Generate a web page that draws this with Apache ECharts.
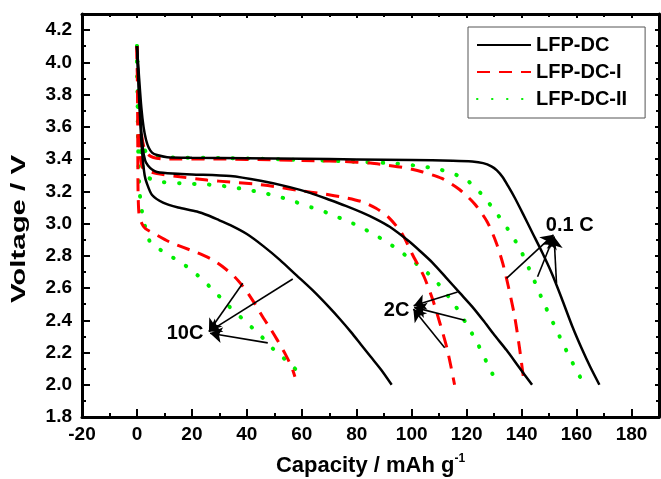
<!DOCTYPE html>
<html>
<head>
<meta charset="utf-8">
<script src="https://cdn.jsdelivr.net/npm/echarts@6/dist/echarts.min.js"></script>
<style>
  html, body { margin: 0; padding: 0; background: #fff; }
  #main { width: 661px; height: 479px; }
</style>
</head>
<body>
<div id="main"></div>
<script>
// discharge curves, [capacity mAh/g, voltage V]
// LFP-DC (black), LFP-DC-I (red), LFP-DC-II (green) at 0.1C / 2C / 10C
const dc_01 = [[0,4.1],[0.8,3.9],[1.6,3.72],[2.4,3.6],[3.3,3.52],[4.3,3.47],[5.5,3.44],[7.3,3.425],[11,3.412],[20,3.408],[40,3.405],[60,3.402],[80,3.398],[100,3.394],[115,3.39],[122,3.385],[126,3.375],[129,3.355],[131,3.33],[133,3.29],[135,3.235],[137.5,3.16],[140.5,3.06],[144,2.94],[147.5,2.82],[151,2.69],[154.5,2.54],[158.5,2.36],[162,2.22],[165,2.11],[168.3,2.0]];
const dcI_01 = [[0,4.1],[0.4,3.9],[0.9,3.7],[1.6,3.56],[2.6,3.47],[4,3.43],[6,3.41],[10,3.4],[30,3.4],[50,3.395],[65,3.39],[75,3.385],[85,3.375],[91,3.362],[98,3.345],[104,3.32],[111,3.28],[117.5,3.21],[123,3.12],[127.5,3.01],[130.8,2.88],[133.2,2.75],[135.3,2.6],[137.5,2.42],[139.3,2.22],[141,2.0]];
const dcII_01 = [[0,4.1],[0.3,3.9],[0.7,3.7],[1.3,3.56],[2.2,3.48],[3.5,3.44],[6,3.415],[10,3.41],[33,3.406],[60,3.395],[82,3.382],[94.5,3.372],[101,3.36],[109,3.34],[115,3.31],[120,3.27],[125,3.19],[130,3.085],[135,2.965],[139.5,2.84],[144,2.67],[148,2.51],[152.7,2.34],[157.5,2.17],[162.5,2.01]];

const dc_2 = [[0,4.1],[0.7,3.85],[1.4,3.62],[2.2,3.46],[3,3.39],[4,3.36],[5.5,3.335],[7.3,3.32],[13,3.31],[20,3.305],[34,3.295],[45,3.265],[55.6,3.226],[63,3.19],[70,3.148],[76,3.11],[82,3.068],[87,3.028],[92,2.98],[99,2.89],[103,2.83],[107.7,2.755],[112.5,2.665],[117.5,2.57],[122,2.485],[126,2.4],[130,2.31],[134.5,2.215],[139,2.11],[143.8,2.0]];
const dcI_2 = [[0,4.1],[0.3,3.85],[0.7,3.6],[1.2,3.42],[2,3.35],[3.5,3.33],[7.3,3.31],[15.6,3.29],[25.5,3.27],[34,3.257],[43,3.245],[50,3.23],[59,3.205],[67.6,3.185],[76,3.16],[82,3.135],[87,3.095],[91.5,3.04],[96.4,2.94],[100.5,2.8],[104.5,2.67],[107.6,2.53],[110.3,2.38],[113,2.215],[115.6,2.0]];
const dcII_2 = [[0,4.1],[0.3,3.85],[0.8,3.6],[1.5,3.42],[2.5,3.32],[3.6,3.29],[6,3.27],[9.5,3.257],[15.6,3.25],[22,3.245],[27.6,3.24],[34.5,3.226],[40,3.21],[46,3.19],[52,3.165],[57.5,3.135],[63.6,3.1],[69.5,3.065],[74.5,3.03],[80,2.99],[85.5,2.94],[91,2.885],[96,2.825],[101,2.76],[106,2.69],[110,2.62],[113.5,2.545],[117,2.46],[120.5,2.36],[124,2.255],[128.4,2.1],[131.5,2.0]];

const dc_10 = [[0,4.1],[0.6,3.85],[1.3,3.6],[2,3.42],[2.8,3.3],[3.6,3.25],[5.5,3.177],[9.5,3.13],[15,3.1],[21.8,3.075],[26,3.05],[30,3.02],[34,2.99],[40,2.935],[46,2.86],[52,2.775],[58,2.68],[64,2.585],[70,2.48],[74,2.405],[78,2.325],[81.5,2.25],[85,2.175],[89,2.09],[92.7,2.0]];
const dcI_10 = [[0,4.1],[0.2,3.8],[0.3,3.5],[0.4,3.2],[0.8,3.05],[1.8,3.0],[3,2.97],[6,2.94],[12,2.885],[21.8,2.82],[27,2.78],[31,2.735],[35.5,2.67],[39.5,2.59],[43,2.5],[45.8,2.42],[48.5,2.35],[51,2.28],[54,2.19],[56.3,2.11],[57.5,2.05]];
const dcII_10 = [[0,4.1],[0.2,3.8],[0.4,3.5],[0.7,3.3],[1,3.19],[1.8,3.08],[3,2.98],[4.7,2.89],[10,2.82],[16.4,2.755],[22,2.68],[27.6,2.59],[33,2.495],[39,2.4],[44.7,2.31],[50,2.215],[56.4,2.12],[61,2.03]];

const names = ['LFP-DC', 'LFP-DC-I', 'LFP-DC-II'];

// rate labels and their arrows (data coords)
const noteLabels = [['10C', 17.5, 2.32], ['2C', 94.5, 2.46], ['0.1 C', 157.5, 2.99]];
const noteArrows = [
  [[56.7, 2.656], [26.2, 2.33]], [[38.5, 2.63], [26.2, 2.33]], [[47.6, 2.26], [26.6, 2.32]],
  [[116.7, 2.575], [100.7, 2.49]], [[119.3, 2.40], [100.9, 2.48]], [[112, 2.23], [100.6, 2.47]],
  [[134.5, 2.66], [151.6, 2.93]], [[145.8, 2.67], [151.7, 2.92]], [[152.7, 2.63], [151.8, 2.92]]
];

const FONT = 'Liberation Sans, Arial, sans-serif';

const styles = [
  { color: '#000000', width: 2.5, type: 'solid' },
  { color: '#ff0000', width: 3, type: [13, 9] },
  { color: '#00ee00', width: 4, type: [0.5, 14.5], cap: 'round' }
];

function curve(idx, data) {
  const s = styles[idx];
  return {
    name: names[idx],
    type: 'line',
    data: data,
    showSymbol: false,
    symbol: 'none',
    smooth: 0.25,
    color: s.color,
    lineStyle: { color: s.color, width: s.width, type: s.type, cap: s.cap || 'butt' },
    z: 3 - idx
  };
}

const series = [
  curve(0, dc_01), curve(1, dcI_01), curve(2, dcII_01),
  curve(0, dc_2), curve(1, dcI_2), curve(2, dcII_2),
  curve(0, dc_10), curve(1, dcI_10), curve(2, dcII_10),
  {
    name: 'notes',
    type: 'line',
    data: [],
    color: '#000',
    z: 5,
    markLine: {
      silent: true,
      symbol: ['none', 'arrow'],
      symbolSize: 12,
      label: { show: false },
      itemStyle: { color: '#000' },
      lineStyle: { color: '#000', width: 1.6, type: 'solid' },
      data: noteArrows.map(a => [{ coord: a[0] }, { coord: a[1] }])
    },
    markPoint: {
      silent: true,
      symbol: 'circle',
      symbolSize: 0,
      label: {
        show: true, position: 'inside', formatter: p => p.name,
        color: '#000', fontSize: 20, fontWeight: 'bold', fontFamily: FONT
      },
      data: noteLabels.map(n => ({ name: n[0], coord: [n[1], n[2]] }))
    }
  }
];

const chart = echarts.init(document.getElementById('main'));
chart.setOption({
  animation: false,
  backgroundColor: '#fff',
  grid: { left: 82, right: 2, top: 14, bottom: 62, outerBoundsMode: 'none', containLabel: false },
  legend: {
    data: names,
    orient: 'vertical',
    left: 468,
    top: 27,
    padding: [8, 18, 9, 8],
    itemWidth: 54,
    itemHeight: 14,
    itemGap: 7,
    borderColor: '#555',
    borderWidth: 1,
    itemStyle: { color: 'transparent', borderWidth: 0, opacity: 0 },
    textStyle: { color: '#000', fontSize: 20, fontWeight: 'bold', fontFamily: FONT, lineHeight: 20 }
  },
  xAxis: [
    {
      type: 'value', min: -20, max: 190, interval: 20,
      name: '{a|Capacity / mAh g}{b|-1}',
      nameLocation: 'middle',
      nameGap: 36,
      nameTextStyle: {
        rich: {
          a: { fontSize: 22, fontWeight: 'bold', fontFamily: FONT, color: '#000', lineHeight: 26 },
          b: { fontSize: 12, fontWeight: 'bold', fontFamily: FONT, color: '#000', verticalAlign: 'top', lineHeight: 14 }
        }
      },
      axisLine: { onZero: false, lineStyle: { color: '#000', width: 3 } },
      axisTick: { inside: true, length: 8, lineStyle: { width: 2 } },
      minorTick: { show: true, splitNumber: 2, length: 4, lineStyle: { color: '#000', width: 2 } },
      splitLine: { show: false },
      axisLabel: {
        margin: 8, color: '#000', fontSize: 19, fontWeight: 'bold', fontFamily: FONT,
        formatter: v => (v > 185 ? '' : String(v))
      }
    },
    {
      type: 'value', min: -20, max: 190, interval: 20, position: 'top',
      axisLine: { onZero: false, lineStyle: { color: '#000', width: 3 } },
      axisTick: { inside: true, length: 4, lineStyle: { width: 2 } },
      minorTick: { show: true, splitNumber: 2, length: 3, lineStyle: { color: '#000', width: 2 } },
      splitLine: { show: false },
      axisLabel: { show: false }
    }
  ],
  yAxis: [
    {
      type: 'value', min: 1.8, max: 4.3, interval: 0.2,
      axisLine: { show: true, onZero: false, lineStyle: { color: '#000', width: 3 } },
      axisTick: { show: true, inside: true, length: 8, lineStyle: { width: 2 } },
      minorTick: { show: true, splitNumber: 2, length: 4, lineStyle: { color: '#000', width: 2 } },
      splitLine: { show: false },
      axisLabel: {
        margin: 10, color: '#000', fontSize: 19, fontWeight: 'bold', fontFamily: FONT,
        formatter: v => (v > 4.25 ? '' : v.toFixed(1))
      }
    },
    {
      type: 'value', min: 1.8, max: 4.3, interval: 0.2, position: 'right',
      axisLine: { show: true, onZero: false, lineStyle: { color: '#000', width: 3 } },
      axisTick: { show: true, inside: true, length: 4, lineStyle: { width: 2 } },
      minorTick: { show: true, splitNumber: 2, length: 3, lineStyle: { color: '#000', width: 2 } },
      splitLine: { show: false },
      axisLabel: { show: false }
    }
  ],
  graphic: [
    {
      type: 'text',
      x: 19, y: 229,
      rotation: Math.PI / 2,
      scaleX: 1.4,
      style: {
        text: 'Voltage / V',
        fill: '#000',
        font: 'bold 21px ' + FONT,
        textAlign: 'center',
        textVerticalAlign: 'middle'
      }
    }
  ],
  series: series
});
</script>
</body>
</html>
